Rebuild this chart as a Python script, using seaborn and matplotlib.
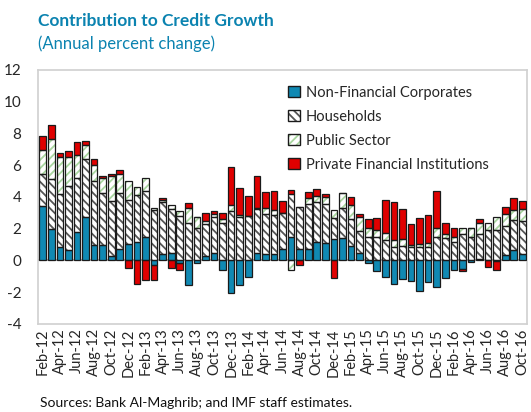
import numpy as np
import pandas as pd
import matplotlib
matplotlib.use("Agg")
import matplotlib.pyplot as plt
import seaborn as sns
from matplotlib.patches import Patch
from matplotlib.legend_handler import HandlerTuple

# monthly data, Feb-12 .. Oct-16
months = pd.date_range("2012-02-01", "2016-10-01", freq="MS").strftime("%b-%y").tolist()

nfc = [3.42, 2.0, 0.86, 0.67, 1.8, 2.75, 0.96, 0.96, 0.27, 0.71,
       1.02, 1.17, 1.46, -0.31, 0.4, 0.46, -0.15, -1.52, -0.17, 0.25,
       0.48, -0.6, -2.04, -1.52, -1.06, 0.46, 0.4, 0.4, 0.73, 1.5,
       0.71, 0.71, 1.13, 1.08, 1.33, 1.4, 0.92, 0.46, -0.15, -0.69,
       -1.06, -1.46, -1.17, -1.3, -1.9, -1.37, -1.69, -1.1, -0.58, -0.55,
       -0.1, 0.1, 0.0, -0.05, 0.33, 0.67, 0.4]
households = [2.04, 3.15, 3.33, 4.0, 3.4, 3.65, 4.06, 3.29, 3.46, 3.56,
              2.81, 2.92, 2.94, 3.15, 3.25, 2.75, 2.77, 2.33, 2.02, 2.02,
              2.27, 2.33, 3.1, 2.75, 2.77, 2.75, 2.54, 2.45, 2.27, 2.7,
              2.67, 2.85, 2.52, 2.5, 1.32, 1.87, 1.71, 1.42, 1.5, 1.5,
              1.27, 0.86, 0.92, 0.86, 0.86, 0.86, 1.5, 1.44, 1.13, 1.65,
              1.5, 1.59, 1.92, 1.92, 1.84, 1.85, 2.08]
public = [1.52, 2.5, 2.33, 1.83, 1.46, 0.87, 0.96, 0.96, 1.58, 1.19,
          1.17, 0.56, 0.81, 0.14, 0.15, 0.25, 0.36, 0.94, 0.69, 0.21,
          0.19, 0.3, 0.42, 0.08, 0.0, 0.08, 0.39, 0.34, 0.0, -0.58,
          0.0, 0.4, 0.41, 0.43, 0.54, 0.96, 0.89, 0.87, 0.52, 0.42,
          0.46, 0.45, 0.44, 0.12, 0.2, 0.22, 0.52, 0.21, 0.33, 0.41,
          0.56, 0.64, 0.41, 0.79, 0.77, 0.65, 0.77]
private_fin = [0.88, 0.87, 0.23, 0.4, 0.77, 0.27, 0.38, 0.1, 0.11, 0.25,
               -0.48, -1.5, -1.23, -0.94, 0.14, -0.46, -0.45, 0.36, 0.0, 0.52,
               0.16, 0.37, 2.36, 1.71, 1.31, 2.04, 1.0, 1.21, 0.77, 0.25,
               -0.3, 0.33, 0.46, 0.17, -1.1, 0.0, 0.5, 0.15, 0.56, 0.77,
               2.08, 2.34, 1.85, 1.29, 1.6, 1.78, 2.38, 0.68, 0.56, -0.14,
               0.0, 0.27, -0.4, -0.55, 0.42, 0.73, 0.5]

series = ["Non-Financial Corporates", "Households", "Public Sector",
          "Private Financial Institutions"]
values = [nfc, households, public, private_fin]

sns.set_style("white")
plt.rcParams["font.family"] = ["Lato", "DejaVu Sans"]
plt.rcParams["hatch.linewidth"] = 1.3

blue = "#1089b3"
title_col = "#0b83b0"
styles = {
    "Non-Financial Corporates": dict(color=blue, hatch=None, hc=None),
    "Households": dict(color="white", hatch="\\\\\\\\", hc="#555555"),
    "Public Sector": dict(color="white", hatch="////", hc="#a9d6a0"),
    "Private Financial Institutions": dict(color="#e00000", hatch=None, hc=None),
}

fig = plt.figure(figsize=(5.31, 4.12), dpi=100)
ax = fig.add_axes([0.0716, 0.2136, 0.921, 0.617])

x = np.arange(len(months))
pos_base = np.zeros(len(months))
neg_base = np.zeros(len(months))
width = 0.78

for name, vals in zip(series, values):
    v = np.array(vals)
    bottom = np.where(v >= 0, pos_base, neg_base)
    st = styles[name]
    if st["hatch"]:
        ax.bar(x, v, width, bottom=bottom, color=st["color"], hatch=st["hatch"],
               edgecolor=st["hc"], linewidth=0, zorder=2)
    else:
        ax.bar(x, v, width, bottom=bottom, color=st["color"], linewidth=0, zorder=2)
    ax.bar(x, v, width, bottom=bottom, fill=False, edgecolor="#1a1a1a",
           linewidth=0.9, zorder=3)
    pos_base = pos_base + np.where(v >= 0, v, 0)
    neg_base = neg_base + np.where(v < 0, v, 0)

ax.axhline(0, color="#b0b0b0", lw=1.5, zorder=1)

ax.set_xlim(-0.55, len(months) - 0.45)
ax.set_ylim(-4, 12)
ax.set_yticks(range(-4, 13, 2))
ax.set_yticklabels([str(t) for t in range(-4, 13, 2)], fontsize=11)
ax.set_xticks(x[::2])
ax.set_xticklabels(months[::2], rotation=90, fontsize=10.5)
ax.tick_params(axis="x", length=0, pad=3)
ax.tick_params(axis="y", length=3, direction="in", color="#b0b0b0", pad=12)
for s in ax.spines.values():
    s.set_color("#d0d0d0")
    s.set_linewidth(1.2)

# legend: hatched fill with its own colour, black outline on top
handles = []
for name in series:
    st = styles[name]
    if st["hatch"]:
        fill = Patch(facecolor=st["color"], edgecolor=st["hc"], hatch=st["hatch"], lw=0)
    else:
        fill = Patch(facecolor=st["color"], lw=0)
    outline = Patch(fill=False, edgecolor="#1a1a1a", lw=1.0)
    handles.append((fill, outline))
leg = ax.legend(handles=handles, labels=series, loc="upper left",
                bbox_to_anchor=(0.5, 0.96), frameon=False, fontsize=10.5,
                handlelength=0.8, handleheight=0.8, handletextpad=0.4,
                labelspacing=0.68, borderaxespad=0,
                handler_map={tuple: HandlerTuple(ndivide=1, pad=0)})

fig.text(0.072, 0.938, "Contribution to Credit Growth", fontsize=12.5,
         fontweight="bold", color=title_col)
fig.text(0.072, 0.882, "(Annual percent change)", fontsize=12, color=title_col)
fig.text(0.075, 0.012, "Sources: Bank Al-Maghrib; and IMF staff estimates.",
         fontsize=10, color="#111111")

fig.savefig("out.png", dpi=100)
